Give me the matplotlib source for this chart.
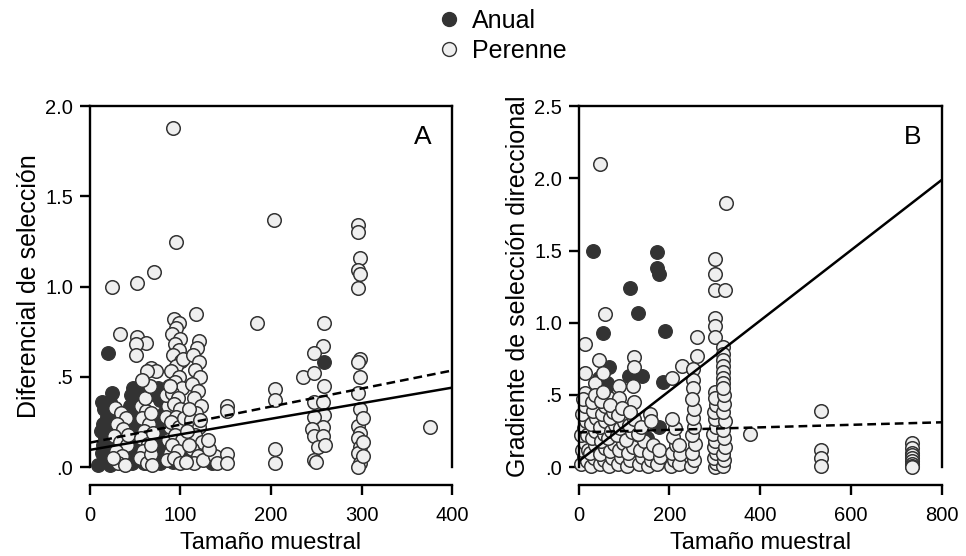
import matplotlib
matplotlib.use('Agg')
import matplotlib.pyplot as plt
from matplotlib.ticker import FuncFormatter
from matplotlib.lines import Line2D

plt.rcParams['font.family'] = ['Liberation Sans', 'DejaVu Sans']

# ---- Panel A: diferencial de seleccion ----
a_anual_x = [13, 24, 20, 9, 16, 19, 15, 21, 17, 14, 20, 16, 22, 24, 23, 25, 18, 12, 13, 26, 22,
             48, 45, 52, 44, 50, 46, 53, 43, 49, 45, 51, 47, 54,
             75, 80, 73, 78, 82, 74, 79, 76, 81, 73, 78,
             62, 60, 98, 92, 115, 259, 135, 108]
a_anual_y = [0.36, 0.41, 0.63, 0.01, 0.32, 0.28, 0.24, 0.20, 0.16, 0.12, 0.08, 0.04, 0.01, 0.30,
             0.22, 0.14, 0.35, 0.20, 0.08, 0.05, 0.36,
             0.44, 0.40, 0.38, 0.34, 0.30, 0.26, 0.22, 0.18, 0.14, 0.10, 0.06, 0.02, 0.42,
             0.44, 0.42, 0.40, 0.37, 0.30, 0.27, 0.22, 0.17, 0.12, 0.07, 0.02,
             0.10, 0.02, 0.18, 0.03, 0.05, 0.58, 0.02, 0.08]

a_peren_x = [92, 95, 71, 52, 24, 203, 185, 117, 33, 52, 62, 51, 51, 68, 73, 63, 120,
             28, 34, 40, 30, 37, 27, 33, 41, 29, 36, 31, 39, 42, 26,
             57, 62, 58, 65, 60, 56, 64, 59, 55, 63, 67, 61, 66, 58,
             86, 84, 88, 70, 86, 68, 88, 67, 85, 69, 87, 84,
             93, 99, 95, 91, 100, 94, 98, 92, 101, 95, 90, 99, 94, 102, 91, 97, 93, 100, 95, 90,
             98, 94, 102, 91, 97, 93, 100, 104, 89, 103,
             118, 114, 121, 116, 122, 113, 119, 115, 123, 117, 112, 120, 116, 124, 113, 119, 115,
             122, 125,
             107, 110, 106, 109, 138, 132, 140, 130,
             152, 152, 152, 152, 205, 205, 205, 205,
             259, 258, 248, 235, 248, 259, 247, 258, 259, 247, 258, 245, 248, 258, 252, 260, 247, 250,
             296, 296, 298, 296, 298, 296, 298, 296, 298, 296, 298, 296, 298, 296, 298, 296, 298, 296,
             302, 302, 302, 376]
a_peren_y = [1.88, 1.25, 1.08, 1.02, 1.00, 1.37, 0.80, 0.85, 0.74, 0.72, 0.69, 0.68, 0.62, 0.55,
             0.53, 0.53, 0.70,
             0.33, 0.30, 0.27, 0.24, 0.21, 0.17, 0.14, 0.12, 0.09, 0.06, 0.02, 0.01, 0.18, 0.05,
             0.34, 0.31, 0.27, 0.24, 0.20, 0.16, 0.13, 0.09, 0.05, 0.02, 0.07, 0.38, 0.45, 0.48,
             0.34, 0.28, 0.22, 0.19, 0.15, 0.12, 0.08, 0.30, 0.04, 0.01, 0.45, 0.40,
             0.82, 0.80, 0.77, 0.74, 0.71, 0.68, 0.65, 0.62, 0.59, 0.56, 0.53, 0.50, 0.47, 0.44,
             0.41, 0.38, 0.35, 0.32, 0.28, 0.25, 0.22, 0.18, 0.15, 0.12, 0.09, 0.05, 0.02, 0.27,
             0.45, 0.60,
             0.66, 0.62, 0.58, 0.54, 0.50, 0.46, 0.42, 0.38, 0.34, 0.30, 0.26, 0.22, 0.18, 0.14,
             0.10, 0.06, 0.02, 0.26, 0.04,
             0.20, 0.12, 0.03, 0.32, 0.06, 0.10, 0.02, 0.15,
             0.34, 0.31, 0.07, 0.02, 0.43, 0.37, 0.10, 0.02,
             0.80, 0.67, 0.63, 0.50, 0.52, 0.45, 0.36, 0.36, 0.29, 0.28, 0.22, 0.21, 0.17, 0.17,
             0.11, 0.12, 0.04, 0.03,
             1.34, 1.30, 1.16, 1.09, 1.07, 0.99, 0.60, 0.58, 0.50, 0.41, 0.32, 0.23, 0.19, 0.16,
             0.11, 0.08, 0.02, 0.0, 0.27, 0.14, 0.06, 0.22]

# rectas de regresion (extremos x=0 y x=400)
a_recta_x = [0, 400]
a_solida_y = [0.095, 0.44]
a_guion_y = [0.135, 0.535]

# ---- Panel B: gradiente de seleccion direccional ----
b_anual_x = [31, 172, 172, 176, 114, 130, 53, 190, 66, 139, 185, 62, 119, 178, 156, 178,
             40, 70, 100, 150, 120, 60, 45, 112]
b_anual_y = [1.50, 1.49, 1.38, 1.34, 1.24, 1.07, 0.93, 0.94, 0.69, 0.63, 0.59, 0.58, 0.62,
             0.28, 0.05, 0.05, 0.45, 0.40, 0.30, 0.20, 0.10, 0.55, 0.62, 0.63]

b_peren_x = [48, 324, 300, 300, 300, 322, 300, 300, 300, 57, 15, 260, 260, 227, 205, 251, 251, 252,
             318, 318, 318, 318, 318, 318, 318, 300, 121, 121, 44, 15, 35, 53, 88, 15, 66, 88, 121,
             377, 533, 533, 533, 533, 734, 734, 734, 734, 734, 734, 734, 734, 734,
             6, 12, 8, 15, 5, 11, 17, 7, 14, 10, 18, 20, 19,
             28, 33, 26, 37, 30, 35, 27, 38, 32, 29, 36,
             48, 55, 46, 58, 50, 56, 47, 59, 52, 57, 49, 54,
             66, 74, 69, 78, 65, 72, 80, 68, 76, 70,
             86, 93, 88, 97, 84, 91, 99, 87, 95,
             106, 114, 109, 120, 104, 117, 110, 123, 113, 119,
             132, 140, 135, 143, 131, 138,
             152, 160, 155, 163, 157, 159,
             172, 180, 176,
             204, 210, 206, 214, 207, 212, 205, 222, 224, 220,
             248, 254, 250, 256, 249, 253, 251, 255, 250,
             300, 302, 298, 303, 299, 301, 297, 302, 300, 298, 303, 300,
             318, 321, 319, 323, 320, 318, 322, 319, 321, 320, 318]
b_peren_y = [2.10, 1.83, 1.44, 1.34, 1.23, 1.23, 1.03, 0.98, 0.90, 1.06, 0.85, 0.90, 0.77, 0.70,
             0.62, 0.68, 0.60, 0.55,
             0.83, 0.78, 0.74, 0.70, 0.66, 0.62, 0.58, 0.52, 0.76, 0.69, 0.74, 0.65, 0.58, 0.65,
             0.56, 0.51, 0.48, 0.48, 0.45,
             0.23, 0.39, 0.12, 0.06, 0.01, 0.17, 0.13, 0.10, 0.08, 0.06, 0.04, 0.02, 0.01, 0.0,
             0.02, 0.07, 0.12, 0.17, 0.22, 0.27, 0.32, 0.37, 0.42, 0.47, 0.04, 0.12, 0.22,
             0.01, 0.06, 0.10, 0.15, 0.20, 0.25, 0.30, 0.34, 0.39, 0.45, 0.50,
             0.02, 0.05, 0.09, 0.13, 0.18, 0.23, 0.28, 0.32, 0.37, 0.42, 0.46, 0.52,
             0.01, 0.06, 0.11, 0.16, 0.20, 0.25, 0.29, 0.34, 0.38, 0.43,
             0.02, 0.07, 0.12, 0.17, 0.22, 0.27, 0.31, 0.36, 0.41,
             0.01, 0.05, 0.10, 0.14, 0.19, 0.24, 0.29, 0.33, 0.38, 0.56,
             0.02, 0.07, 0.12, 0.18, 0.23, 0.28,
             0.01, 0.05, 0.10, 0.15, 0.37, 0.32,
             0.02, 0.07, 0.12,
             0.01, 0.05, 0.10, 0.15, 0.21, 0.27, 0.33, 0.02, 0.09, 0.15,
             0.01, 0.05, 0.10, 0.16, 0.22, 0.28, 0.34, 0.40, 0.47,
             0.0, 0.03, 0.06, 0.10, 0.14, 0.18, 0.23, 0.28, 0.33, 0.38, 0.43, 0.48,
             0.01, 0.05, 0.09, 0.14, 0.20, 0.26, 0.32, 0.38, 0.44, 0.50, 0.55]

b_recta_x = [0, 800]
b_solida_y = [0.04, 1.99]
b_guion_y = [0.24, 0.31]

# colores
c_anual = '#333333'
c_peren = '#efefef'
c_borde = '#333333'


def fmt_y(v, pos):
    s = '%.1f' % v
    return s[1:] if s.startswith('0') else s


def panel(ax, ax_x, ax_y, pe_x, pe_y, rx, sol, gui, xmax, ymax, xstep, letra, ylab):
    ax.scatter(ax_x, ax_y, s=95, c=c_anual, edgecolors=c_borde, linewidths=1.0,
               clip_on=False, zorder=2)
    ax.scatter(pe_x, pe_y, s=95, c=c_peren, edgecolors=c_borde, linewidths=1.1,
               clip_on=False, zorder=2)
    ax.plot(rx, sol, color='black', lw=1.8, zorder=3)
    ax.plot(rx, gui, color='black', lw=1.8, ls=(0, (3.5, 2)), zorder=3)
    ax.set_xlim(0, xmax)
    ax.set_ylim(0, ymax)
    ax.set_xticks(range(0, xmax + 1, xstep))
    ax.set_yticks([i * 0.5 for i in range(int(ymax / 0.5) + 1)])
    ax.yaxis.set_major_formatter(FuncFormatter(fmt_y))
    for s in ax.spines.values():
        s.set_linewidth(1.7)
    ax.spines['bottom'].set_position(('outward', 13))
    ax.tick_params(direction='out', length=7, width=1.7, labelsize=14.5, pad=5)
    ax.tick_params(axis='x', pad=8)
    ax.set_xlabel('Tamaño muestral', fontsize=17, labelpad=5)
    ax.set_ylabel(ylab, fontsize=18, labelpad=3)
    ax.text(0.92, 0.915, letra, transform=ax.transAxes, ha='center', va='center', fontsize=19)


fig = plt.figure(figsize=(9.66, 5.56), dpi=100)
ax1 = fig.add_axes([0.093, 0.160, 0.375, 0.649])
ax2 = fig.add_axes([0.599, 0.160, 0.376, 0.649])

panel(ax1, a_anual_x, a_anual_y, a_peren_x, a_peren_y, a_recta_x, a_solida_y, a_guion_y,
      400, 2.0, 100, 'A', 'Diferencial de selección')
panel(ax2, b_anual_x, b_anual_y, b_peren_x, b_peren_y, b_recta_x, b_solida_y, b_guion_y,
      800, 2.5, 200, 'B', 'Gradiente de selección direccional')

# leyenda arriba al centro
h1 = Line2D([], [], ls='none', marker='o', ms=10, mfc=c_anual, mec=c_borde)
h2 = Line2D([], [], ls='none', marker='o', ms=10, mfc=c_peren, mec=c_borde)
fig.legend([h1, h2], ['Anual', 'Perenne'], loc='upper center', bbox_to_anchor=(0.518, 1.025),
           frameon=False, fontsize=18, handletextpad=0.3, labelspacing=0.25,
           handlelength=1.2)

fig.savefig('out.png', dpi=100)
